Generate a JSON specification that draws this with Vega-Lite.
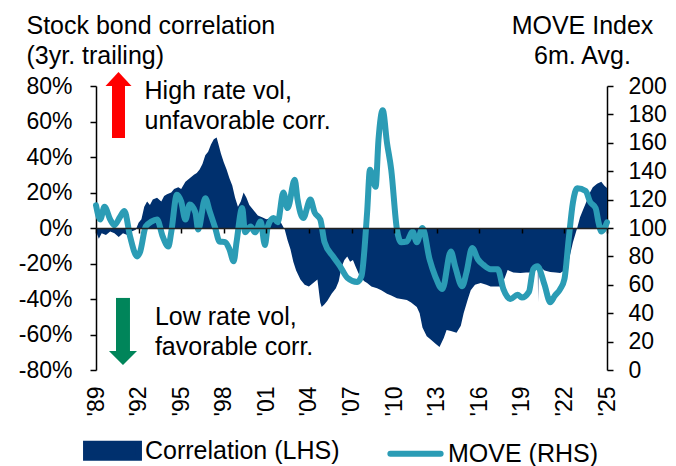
{
  "$schema": "https://vega.github.io/schema/vega-lite/v6.json",
  "width": 511,
  "height": 284,
  "autosize": {"type": "none"},
  "padding": {"left": 96, "top": 86, "right": 69, "bottom": 96},
  "background": "white",
  "config": {
    "font": "Liberation Sans",
    "view": {"stroke": null},
    "axis": {"grid": false, "domainColor": "black", "tickColor": "black", "labelColor": "black", "titleColor": "black", "domainWidth": 1.5, "tickWidth": 1.5, "labelFontSize": 23, "labelFont": "Liberation Sans", "titleFont": "Liberation Sans"}
  },
  "datasets": {
    "corr": [
      {"year": 1989.0, "corr": -0.02}, {"year": 1989.2, "corr": -0.06}, {"year": 1989.4, "corr": -0.03}, {"year": 1989.7, "corr": -0.04},
      {"year": 1990.0, "corr": -0.02}, {"year": 1990.3, "corr": -0.03}, {"year": 1990.6, "corr": -0.05}, {"year": 1990.9, "corr": -0.03},
      {"year": 1991.2, "corr": -0.04}, {"year": 1991.5, "corr": -0.02}, {"year": 1991.8, "corr": -0.01}, {"year": 1992.0, "corr": 0.03},
      {"year": 1992.2, "corr": 0.05}, {"year": 1992.4, "corr": 0.12}, {"year": 1992.6, "corr": 0.15}, {"year": 1992.8, "corr": 0.13},
      {"year": 1993.0, "corr": 0.16}, {"year": 1993.3, "corr": 0.17}, {"year": 1993.6, "corr": 0.15}, {"year": 1993.8, "corr": 0.18},
      {"year": 1994.0, "corr": 0.19}, {"year": 1994.3, "corr": 0.2}, {"year": 1994.5, "corr": 0.22}, {"year": 1994.8, "corr": 0.23},
      {"year": 1995.0, "corr": 0.22}, {"year": 1995.3, "corr": 0.26}, {"year": 1995.6, "corr": 0.28}, {"year": 1995.9, "corr": 0.3},
      {"year": 1996.1, "corr": 0.31}, {"year": 1996.3, "corr": 0.33}, {"year": 1996.5, "corr": 0.36}, {"year": 1996.7, "corr": 0.41},
      {"year": 1996.9, "corr": 0.43}, {"year": 1997.1, "corr": 0.47}, {"year": 1997.3, "corr": 0.5}, {"year": 1997.5, "corr": 0.51},
      {"year": 1997.6, "corr": 0.48}, {"year": 1997.8, "corr": 0.42}, {"year": 1998.0, "corr": 0.37}, {"year": 1998.2, "corr": 0.33},
      {"year": 1998.4, "corr": 0.28}, {"year": 1998.6, "corr": 0.24}, {"year": 1998.8, "corr": 0.17}, {"year": 1999.0, "corr": 0.12},
      {"year": 1999.2, "corr": 0.15}, {"year": 1999.4, "corr": 0.2}, {"year": 1999.6, "corr": 0.17}, {"year": 1999.8, "corr": 0.13},
      {"year": 2000.1, "corr": 0.1}, {"year": 2000.4, "corr": 0.07}, {"year": 2000.7, "corr": 0.06}, {"year": 2001.0, "corr": 0.05},
      {"year": 2001.3, "corr": 0.055}, {"year": 2001.6, "corr": 0.045}, {"year": 2001.9, "corr": 0.05}, {"year": 2002.1, "corr": 0.02},
      {"year": 2002.3, "corr": -0.01}, {"year": 2002.5, "corr": -0.07}, {"year": 2002.7, "corr": -0.12}, {"year": 2002.9, "corr": -0.19},
      {"year": 2003.1, "corr": -0.24}, {"year": 2003.4, "corr": -0.29}, {"year": 2003.7, "corr": -0.32}, {"year": 2004.0, "corr": -0.33},
      {"year": 2004.3, "corr": -0.31}, {"year": 2004.6, "corr": -0.29}, {"year": 2004.8, "corr": -0.42}, {"year": 2004.9, "corr": -0.445},
      {"year": 2005.1, "corr": -0.43}, {"year": 2005.3, "corr": -0.41}, {"year": 2005.6, "corr": -0.37}, {"year": 2005.9, "corr": -0.34},
      {"year": 2006.1, "corr": -0.3}, {"year": 2006.3, "corr": -0.22}, {"year": 2006.5, "corr": -0.18}, {"year": 2006.7, "corr": -0.16},
      {"year": 2006.9, "corr": -0.19}, {"year": 2007.1, "corr": -0.18}, {"year": 2007.3, "corr": -0.22}, {"year": 2007.6, "corr": -0.275},
      {"year": 2007.9, "corr": -0.3}, {"year": 2008.1, "corr": -0.31}, {"year": 2008.4, "corr": -0.33}, {"year": 2008.8, "corr": -0.34},
      {"year": 2009.1, "corr": -0.35}, {"year": 2009.5, "corr": -0.37}, {"year": 2009.8, "corr": -0.38}, {"year": 2010.2, "corr": -0.396},
      {"year": 2010.5, "corr": -0.4}, {"year": 2010.9, "corr": -0.406}, {"year": 2011.2, "corr": -0.42}, {"year": 2011.6, "corr": -0.445},
      {"year": 2011.8, "corr": -0.48}, {"year": 2012.0, "corr": -0.56}, {"year": 2012.3, "corr": -0.61}, {"year": 2012.6, "corr": -0.63},
      {"year": 2012.9, "corr": -0.65}, {"year": 2013.2, "corr": -0.67}, {"year": 2013.5, "corr": -0.62}, {"year": 2013.7, "corr": -0.575},
      {"year": 2014.0, "corr": -0.58}, {"year": 2014.4, "corr": -0.59}, {"year": 2014.7, "corr": -0.55}, {"year": 2014.9, "corr": -0.48},
      {"year": 2015.2, "corr": -0.4}, {"year": 2015.4, "corr": -0.35}, {"year": 2015.7, "corr": -0.32}, {"year": 2016.1, "corr": -0.31},
      {"year": 2016.5, "corr": -0.32}, {"year": 2016.8, "corr": -0.33}, {"year": 2017.2, "corr": -0.33}, {"year": 2017.5, "corr": -0.33},
      {"year": 2017.8, "corr": -0.28}, {"year": 2018.0, "corr": -0.237}, {"year": 2018.4, "corr": -0.25}, {"year": 2018.9, "corr": -0.254},
      {"year": 2019.3, "corr": -0.25}, {"year": 2019.6, "corr": -0.25}, {"year": 2020.0, "corr": -0.235}, {"year": 2020.12, "corr": -0.22},
      {"year": 2020.15, "corr": -0.42}, {"year": 2020.18, "corr": -0.22}, {"year": 2020.3, "corr": -0.22}, {"year": 2020.6, "corr": -0.24},
      {"year": 2021.0, "corr": -0.248}, {"year": 2021.4, "corr": -0.25}, {"year": 2021.7, "corr": -0.254}, {"year": 2022.0, "corr": -0.24},
      {"year": 2022.2, "corr": -0.22}, {"year": 2022.4, "corr": -0.15}, {"year": 2022.6, "corr": -0.08}, {"year": 2022.9, "corr": 0.0},
      {"year": 2023.1, "corr": 0.06}, {"year": 2023.3, "corr": 0.1}, {"year": 2023.6, "corr": 0.158}, {"year": 2023.8, "corr": 0.2},
      {"year": 2024.0, "corr": 0.23}, {"year": 2024.3, "corr": 0.25}, {"year": 2024.6, "corr": 0.26}, {"year": 2024.8, "corr": 0.24},
      {"year": 2025.0, "corr": 0.225}
    ],
    "move": [
      {"year": 1989.0, "move": 116}, {"year": 1989.3, "move": 106}, {"year": 1989.6, "move": 115}, {"year": 1990.0, "move": 106},
      {"year": 1990.3, "move": 102}, {"year": 1990.7, "move": 108}, {"year": 1991.0, "move": 112}, {"year": 1991.4, "move": 94},
      {"year": 1991.9, "move": 80}, {"year": 1992.1, "move": 83}, {"year": 1992.5, "move": 101}, {"year": 1992.9, "move": 104.5},
      {"year": 1993.3, "move": 106}, {"year": 1993.7, "move": 94}, {"year": 1994.1, "move": 87}, {"year": 1994.3, "move": 97},
      {"year": 1994.7, "move": 123.5}, {"year": 1995.0, "move": 118.6}, {"year": 1995.3, "move": 106}, {"year": 1995.6, "move": 116.5},
      {"year": 1996.0, "move": 111}, {"year": 1996.2, "move": 99}, {"year": 1996.7, "move": 121}, {"year": 1997.0, "move": 112},
      {"year": 1997.4, "move": 100}, {"year": 1997.7, "move": 90.5}, {"year": 1998.1, "move": 90}, {"year": 1998.4, "move": 85},
      {"year": 1998.7, "move": 76.5}, {"year": 1998.9, "move": 90}, {"year": 1999.3, "move": 114}, {"year": 1999.5, "move": 97},
      {"year": 1999.9, "move": 101}, {"year": 2000.2, "move": 97}, {"year": 2000.6, "move": 104.5}, {"year": 2000.9, "move": 88},
      {"year": 2001.1, "move": 101}, {"year": 2001.5, "move": 107}, {"year": 2001.8, "move": 104}, {"year": 2002.2, "move": 125},
      {"year": 2002.5, "move": 114}, {"year": 2003.0, "move": 134}, {"year": 2003.2, "move": 120}, {"year": 2003.6, "move": 107},
      {"year": 2004.1, "move": 120}, {"year": 2004.4, "move": 111}, {"year": 2004.8, "move": 106}, {"year": 2005.1, "move": 90},
      {"year": 2005.7, "move": 80}, {"year": 2006.2, "move": 73}, {"year": 2006.7, "move": 65}, {"year": 2007.4, "move": 62},
      {"year": 2007.7, "move": 66}, {"year": 2008.1, "move": 111}, {"year": 2008.3, "move": 141}, {"year": 2008.7, "move": 129},
      {"year": 2008.9, "move": 162}, {"year": 2009.2, "move": 183}, {"year": 2009.5, "move": 160}, {"year": 2009.8, "move": 141},
      {"year": 2010.2, "move": 99}, {"year": 2010.5, "move": 90}, {"year": 2010.9, "move": 90.5}, {"year": 2011.3, "move": 97.5},
      {"year": 2011.6, "move": 90}, {"year": 2012.0, "move": 100}, {"year": 2012.5, "move": 78}, {"year": 2012.9, "move": 66},
      {"year": 2013.4, "move": 57}, {"year": 2014.0, "move": 83.5}, {"year": 2014.3, "move": 73}, {"year": 2014.8, "move": 59},
      {"year": 2015.1, "move": 68.6}, {"year": 2015.5, "move": 86}, {"year": 2015.9, "move": 78}, {"year": 2016.3, "move": 74},
      {"year": 2016.8, "move": 71}, {"year": 2017.3, "move": 71}, {"year": 2017.7, "move": 57}, {"year": 2018.2, "move": 50},
      {"year": 2018.7, "move": 53}, {"year": 2019.0, "move": 51}, {"year": 2019.5, "move": 55}, {"year": 2019.8, "move": 71},
      {"year": 2020.1, "move": 73}, {"year": 2020.6, "move": 60}, {"year": 2021.0, "move": 47.7}, {"year": 2021.3, "move": 52},
      {"year": 2021.7, "move": 57}, {"year": 2022.0, "move": 64}, {"year": 2022.3, "move": 92}, {"year": 2022.6, "move": 118},
      {"year": 2022.9, "move": 128}, {"year": 2023.5, "move": 126}, {"year": 2023.8, "move": 118.6}, {"year": 2024.2, "move": 114},
      {"year": 2024.4, "move": 104}, {"year": 2024.6, "move": 97.5}, {"year": 2025.0, "move": 104}
    ],
    "arrows": [
      {"name": "up", "year": 1990.585, "top": 0.81, "bottom": 0.507, "head": 0.839},
      {"name": "down", "year": 1990.9, "top": -0.394, "bottom": -0.7, "head": -0.732}
    ],
    "notes": [
      {"year": 1992.42, "val": 0.727, "text": "High rate vol,\nunfavorable corr."},
      {"year": 1993.15, "val": -0.546, "text": "Low rate vol,\nfavorable corr."}
    ]
  },
  "encoding": {
    "x": {
      "field": "year", "type": "quantitative",
      "scale": {"domain": [1989, 2025], "nice": false, "zero": false},
      "axis": {
        "values": [1989, 1992, 1995, 1998, 2001, 2004, 2007, 2010, 2013, 2016, 2019, 2022, 2025],
        "labelExpr": "\"'\" + slice(toString(datum.value), 2)",
        "labelAngle": -90, "offset": -142, "tickSize": 5, "labelPadding": 153,
        "labelFlush": false, "labelOverlap": false, "title": null, "zindex": 1, "domainColor": "#222"
      }
    }
  },
  "layer": [
    {
      "data": {"name": "corr"},
      "mark": {"type": "area", "interpolate": "linear"},
      "encoding": {
        "y": {
          "field": "corr", "type": "quantitative",
          "scale": {"domain": [-0.8, 0.8], "nice": false},
          "axis": {
            "orient": "left",
            "values": [-0.8, -0.6, -0.4, -0.2, 0, 0.2, 0.4, 0.6, 0.8],
            "labelExpr": "round(datum.value * 100) + '%'",
            "tickSize": 6, "labelPadding": 18, "labelBaseline": "middle",
            "title": ["Stock bond correlation", "(3yr. trailing)"],
            "titleAngle": 0, "titleAlign": "left", "titleBaseline": "alphabetic",
            "titleX": -70, "titleY": -53, "titleFontSize": 25, "titleFontWeight": "normal", "titleLineHeight": 30
          }
        },
        "y2": {"datum": 0},
        "color": {
          "datum": "Correlation (LHS)",
          "scale": {"domain": ["Correlation (LHS)", "MOVE (RHS)"], "range": ["#00306E", "#2B9CB5"]},
          "legend": {
            "orient": "none", "legendX": -13, "legendY": 335, "direction": "horizontal", "title": null,
            "labelFontSize": 25, "labelColor": "black", "labelOffset": 3, "labelLimit": 400, "columnPadding": 38, "padding": 0,
            "symbolSize": 2800,
            "encode": {"symbols": {"update": {
              "shape": {"signal": "datum.value === 'MOVE (RHS)' ? 'M-0.95,0H0.95' : 'M-1,-0.264H1V0.264H-1Z'"},
              "fill": {"signal": "datum.value === 'MOVE (RHS)' ? 'transparent' : '#00306E'"},
              "stroke": {"signal": "datum.value === 'MOVE (RHS)' ? '#2B9CB5' : 'transparent'"},
              "strokeWidth": {"value": 6},
              "strokeCap": {"value": "round"},
              "opacity": {"value": 1}
            }}}
          }
        }
      }
    },
    {
      "data": {"name": "arrows"},
      "transform": [{"filter": "datum.name === 'up'"}],
      "mark": {"type": "rule", "color": "#FF0000", "strokeWidth": 13},
      "encoding": {
        "y": {"field": "top", "type": "quantitative", "scale": {"domain": [-0.8, 0.8], "nice": false}, "axis": null},
        "y2": {"field": "bottom"}
      }
    },
    {
      "data": {"name": "arrows"},
      "transform": [{"filter": "datum.name === 'up'"}],
      "mark": {"type": "point", "filled": true, "color": "#FF0000", "opacity": 1, "strokeWidth": 0, "shape": "M0,-0.54L1,0.54L-1,0.54Z", "size": 676},
      "encoding": {
        "y": {"field": "head", "type": "quantitative", "scale": {"domain": [-0.8, 0.8], "nice": false}, "axis": null}
      }
    },
    {
      "data": {"name": "arrows"},
      "transform": [{"filter": "datum.name === 'down'"}],
      "mark": {"type": "rule", "color": "#00855A", "strokeWidth": 14},
      "encoding": {
        "y": {"field": "top", "type": "quantitative", "scale": {"domain": [-0.8, 0.8], "nice": false}, "axis": null},
        "y2": {"field": "bottom"}
      }
    },
    {
      "data": {"name": "arrows"},
      "transform": [{"filter": "datum.name === 'down'"}],
      "mark": {"type": "point", "filled": true, "color": "#00855A", "opacity": 1, "strokeWidth": 0, "shape": "M0,0.5L1,-0.5L-1,-0.5Z", "size": 784},
      "encoding": {
        "y": {"field": "head", "type": "quantitative", "scale": {"domain": [-0.8, 0.8], "nice": false}, "axis": null}
      }
    },
    {
      "data": {"name": "notes"},
      "mark": {"type": "text", "align": "left", "baseline": "alphabetic", "fontSize": 25, "lineHeight": 30, "lineBreak": "\n", "color": "black"},
      "encoding": {
        "y": {"field": "val", "type": "quantitative", "scale": {"domain": [-0.8, 0.8], "nice": false}, "axis": null},
        "text": {"field": "text"}
      }
    },
    {
      "data": {"name": "move"},
      "mark": {"type": "line", "strokeWidth": 6, "strokeCap": "round", "strokeJoin": "round", "interpolate": "monotone"},
      "encoding": {
        "y": {
          "field": "move", "type": "quantitative",
          "scale": {"domain": [0, 200], "nice": false},
          "axis": {
            "orient": "right",
            "values": [0, 20, 40, 60, 80, 100, 120, 140, 160, 180, 200],
            "tickSize": 6, "labelPadding": 15, "labelBaseline": "middle",
            "title": ["MOVE Index", "6m. Avg."],
            "titleAngle": 0, "titleAlign": "center", "titleBaseline": "alphabetic",
            "titleX": -25, "titleY": -53, "titleFontSize": 25, "titleFontWeight": "normal", "titleLineHeight": 30
          }
        },
        "color": {
          "datum": "MOVE (RHS)",
          "scale": {"domain": ["Correlation (LHS)", "MOVE (RHS)"], "range": ["#00306E", "#2B9CB5"]}
        }
      }
    }
  ],
  "resolve": {"scale": {"y": "independent"}}
}
